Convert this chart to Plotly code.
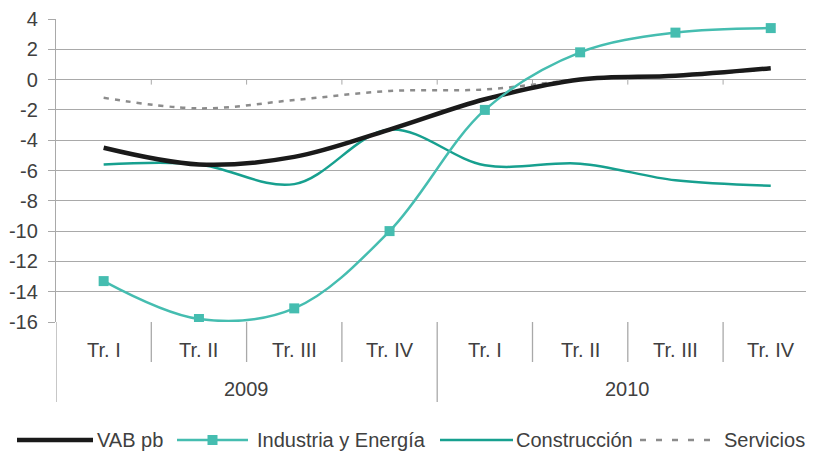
import plotly.graph_objects as go

# ---- data ----
quarters = ["Tr. I", "Tr. II", "Tr. III", "Tr. IV", "Tr. I", "Tr. II", "Tr. III", "Tr. IV"]
years = ["2009", "2010"]
vab_pb = [-4.5, -5.6, -5.1, -3.3, -1.3, 0.0, 0.25, 0.75]
industria = [-13.3, -15.8, -15.1, -10.0, -2.0, 1.8, 3.1, 3.4]
construccion = [-5.6, -5.6, -6.9, -3.3, -5.65, -5.55, -6.65, -7.0]
servicios = [-1.2, -1.9, -1.35, -0.75, -0.65, 0.0, 0.25, 0.7]
y_ticks = [-16, -14, -12, -10, -8, -6, -4, -2, 0, 2, 4]
y_ticktext = [str(v) for v in y_ticks]  # plain hyphen minus as in the reference
series_names = ["VAB pb", "Industria y Energía", "Construcción", "Servicios"]

# ---- styling ----
OFF = 8  # default page margin of the browser body
PAGE_W, PAGE_H = 814, 451
W, H = PAGE_W - OFF, PAGE_H - OFF
PLOT_L, PLOT_T, PLOT_B = 56, 19, 322  # page pixels
ML, MR, MT = PLOT_L - OFF, 0, PLOT_T - OFF
MB = H - (PLOT_B - OFF)
PW, PH = W - ML - MR, H - MT - MB
FONT = "Liberation Sans, Arial, sans-serif"
TXT = "#404040"
GRID = "#a9a9a9"
C_VAB = "#1a1a1a"
C_IND = "#45bdb0"
C_CON = "#17a08f"
C_SER = "#8c8c8c"
CAT_W = 95.3  # px per category


def px2x(px):
    return (px - PLOT_L) / PW


def py2y(py):
    return (PLOT_B - py) / PH


x = list(range(len(quarters)))
x_max = -0.5 + PW / CAT_W

fig = go.Figure()
fig.add_trace(go.Scatter(x=x, y=servicios, mode="lines", name=series_names[3],
                         line=dict(color=C_SER, width=2.5, dash="5px,6px", shape="spline", smoothing=1)))
fig.add_trace(go.Scatter(x=x, y=construccion, mode="lines", name=series_names[2],
                         line=dict(color=C_CON, width=2.5, shape="spline", smoothing=1)))
fig.add_trace(go.Scatter(x=x, y=vab_pb, mode="lines", name=series_names[0],
                         line=dict(color=C_VAB, width=4.5, shape="spline", smoothing=1)))
fig.add_trace(go.Scatter(x=x, y=industria, mode="lines+markers", name=series_names[1],
                         line=dict(color=C_IND, width=2.5, shape="spline", smoothing=1),
                         marker=dict(symbol="square", size=10, color=C_IND)))

shapes = []
annotations = []

# small tick marks on the zero line between categories
for i in range(len(quarters) - 1):
    shapes.append(dict(type="line", xref="x", yref="y", x0=i + 0.5, x1=i + 0.5,
                       y0=0, y1=-5 / (PH / 20), line=dict(color=GRID, width=1)))

# category dividers and labels below the plot
for i, q in enumerate(quarters):
    annotations.append(dict(text=q, xref="x", yref="paper", x=i, y=py2y(350),
                            showarrow=False, xanchor="center", yanchor="middle",
                            font=dict(family=FONT, size=20, color=TXT)))
for i in range(len(quarters)):
    if i % 4 == 0:
        continue
    shapes.append(dict(type="line", xref="x", yref="paper", x0=i - 0.5, x1=i - 0.5,
                       y0=0, y1=py2y(362), line=dict(color=GRID, width=1.3)))
for j, yr in enumerate(years):
    annotations.append(dict(text=yr, xref="x", yref="paper", x=j * 4 + 1.5, y=py2y(389),
                            showarrow=False, xanchor="center", yanchor="middle",
                            font=dict(family=FONT, size=20, color=TXT)))
for b in [-0.5, 3.5, 7.5]:
    shapes.append(dict(type="line", xref="x", yref="paper", x0=b, x1=b,
                       y0=0, y1=py2y(402), line=dict(color=GRID, width=1.3)))

# manual legend
ly = py2y(440)
legend_items = [
    (series_names[0], 17, 93, 95, dict(color=C_VAB, width=4.5), False),
    (series_names[1], 177, 248, 255, dict(color=C_IND, width=2.5), True),
    (series_names[2], 440, 513, 514, dict(color=C_CON, width=2.5), False),
    (series_names[3], 640, 710, 722, dict(color=C_SER, width=2.5, dash="6px,10px"), False),
]
for name, x0, x1, tx, ln, mark in legend_items:
    shapes.append(dict(type="line", xref="paper", yref="paper", x0=px2x(x0), x1=px2x(x1),
                       y0=ly, y1=ly, line=ln))
    if mark:
        cx = (x0 + x1) / 2
        shapes.append(dict(type="rect", xref="paper", yref="paper",
                           x0=px2x(cx - 5), x1=px2x(cx + 5), y0=py2y(445), y1=py2y(435),
                           fillcolor=C_IND, line=dict(width=0)))
    annotations.append(dict(text=name, xref="paper", yref="paper", x=px2x(tx), y=ly,
                            showarrow=False, xanchor="left", yanchor="middle",
                            font=dict(family=FONT, size=20, color=TXT)))

fig.update_layout(
    width=W, height=H,
    margin=dict(l=ML, r=MR, t=MT, b=MB, pad=0),
    paper_bgcolor="white", plot_bgcolor="white",
    showlegend=False,
    font=dict(family=FONT, size=20, color=TXT),
    xaxis=dict(range=[-0.5, x_max], showgrid=False, zeroline=False, showticklabels=False,
               showline=False, ticks="", fixedrange=True),
    yaxis=dict(range=[-16, 4], tickvals=y_ticks, ticktext=y_ticktext, showgrid=True,
               gridcolor=GRID, gridwidth=1.2, zeroline=False, showline=True, linecolor=GRID,
               linewidth=1.3, ticks="outside", ticklen=7, tickcolor=GRID, tickwidth=1.2,
               ticklabelstandoff=6, tickfont=dict(family=FONT, size=20, color=TXT),
               fixedrange=True),
    shapes=shapes, annotations=annotations,
)

fig.write_html("out.html")
